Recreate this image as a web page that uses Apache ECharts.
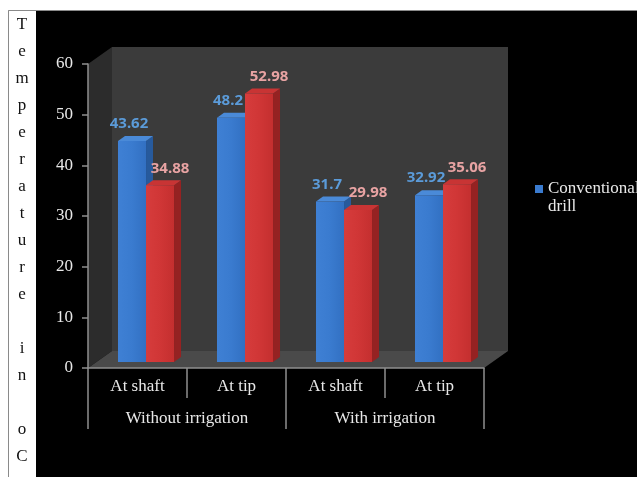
<!DOCTYPE html>
<html>
<head>
<meta charset="utf-8">
<script src="https://cdn.jsdelivr.net/npm/echarts@6/dist/echarts.min.js"></script>
<style>
  html, body { margin: 0; padding: 0; background: #ffffff; }
  #chart { width: 637px; height: 477px; }
</style>
</head>
<body>
<div id="chart"></div>
<script>
// Measurement positions along the implant and irrigation condition
const categories = ['At shaft', 'At tip', 'At shaft', 'At tip'];
const groups = ['Without irrigation', 'With irrigation'];

// Peak temperature (°C) per drill type
const conventionalDrill = [43.62, 48.2, 31.7, 32.92];
const secondDrill = [34.88, 52.98, 29.98, 35.06];

// Value axis range and step
const yMin = 0;
const yMax = 60;
const yStep = 10;

// Vertical axis title, one character per line
const axisTitleLines = ['T', 'e', 'm', 'p', 'e', 'r', 'a', 't', 'u', 'r', 'e', '', 'i', 'n', '', 'o', 'C'];

// Plot area and pseudo-3D depth
const plot = { left: 88, top: 64, right: 484, bottom: 368 };
const wallDepth = [24, -17];
const barDepth = [7, -5];
const barShift = [0.086, -6];   // bar front plane offset (fraction of band, px)
const barRatio = 0.283;          // bar width as fraction of band

const chart = echarts.init(document.getElementById('chart'), null, { renderer: 'canvas' });

function makeBar3D(side, colors, labelColor, labelDx) {
  return function (params, api) {
    const idx = api.value(0);
    const v = api.value(1);
    const base = api.coord([idx, 0]);
    const top = api.coord([idx, v]);
    const band = api.size([1, 0])[0];
    const w = band * barRatio;
    const x0 = base[0] + band * barShift[0] + (side === 0 ? -w : 0);
    const x1 = x0 + w;
    const yb = base[1] + barShift[1];
    const yt = top[1] + barShift[1];
    const dx = barDepth[0], dy = barDepth[1];
    return {
      type: 'group',
      children: [
        {
          type: 'polygon',
          shape: { points: [[x1, yb], [x1 + dx, yb + dy], [x1 + dx, yt + dy], [x1, yt]] },
          style: { fill: colors.side }
        },
        {
          type: 'polygon',
          shape: { points: [[x0, yt], [x0 + dx, yt + dy], [x1 + dx, yt + dy], [x1, yt]] },
          style: { fill: colors.top }
        },
        {
          type: 'rect',
          shape: { x: x0, y: yt, width: w, height: yb - yt },
          style: {
            fill: new echarts.graphic.LinearGradient(0, 0, 1, 0, [
              { offset: 0, color: colors.frontA },
              { offset: 0.5, color: colors.frontB },
              { offset: 1, color: colors.frontC }
            ])
          }
        },
        {
          type: 'text',
          style: {
            text: String(v),
            x: (x0 + x1) / 2 + labelDx,
            y: yt - 17,
            align: 'center',
            verticalAlign: 'middle',
            font: 'bold 15px "Noto Sans"',
            fill: labelColor
          }
        }
      ]
    };
  };
}

const blue = { frontA: '#3f80d4', frontB: '#3a7bcf', frontC: '#3270c2', side: '#275a9c', top: '#4a8ad8' };
const red = { frontA: '#d63c3c', frontB: '#d03636', frontC: '#c42f2f', side: '#952222', top: '#c83434' };

const axisGray = '#8f8f8f';
const textLight = '#e8e8e8';
const serif = '"Liberation Serif", "DejaVu Serif", serif';

const [wx, wy] = wallDepth;

const option = {
  backgroundColor: '#ffffff',
  animation: false,
  grid: {
    left: plot.left,
    top: plot.top,
    right: 637 - plot.right,
    bottom: 477 - plot.bottom,
    containLabel: false
  },
  legend: {
    data: ['Conventional drill'],
    left: 530,
    top: 157,
    icon: 'rect',
    itemWidth: 8,
    itemHeight: 8,
    // a blank first line keeps the marker level with "Conventional"
    formatter: function () { return ' \nConventional\ndrill'; },
    textStyle: {
      color: textLight,
      fontFamily: serif,
      fontSize: 17,
      lineHeight: 18
    }
  },
  graphic: [
    // page frame and title strip
    { type: 'rect', z: -10, shape: { x: 8.5, y: 10.5, width: 640, height: 480 },
      style: { fill: '#000000', stroke: '#8a8a8a', lineWidth: 1 } },
    { type: 'rect', z: -9, shape: { x: 9, y: 11, width: 27, height: 480 },
      style: { fill: '#ffffff' } },
    { type: 'text', z: -8, style: {
        text: axisTitleLines.join('\n'), x: 22, y: 11.5, align: 'center', verticalAlign: 'top',
        font: '17px ' + serif, lineHeight: 27, fill: '#111111' } },
    // back wall
    { type: 'rect', z: -5, shape: { x: plot.left + wx, y: plot.top + wy, width: plot.right - plot.left, height: plot.bottom - plot.top },
      style: { fill: '#3b3b3b' } },
    // side wall
    { type: 'polygon', z: -5, shape: { points: [[plot.left, plot.top], [plot.left + wx, plot.top + wy], [plot.left + wx, plot.bottom + wy], [plot.left, plot.bottom]] },
      style: { fill: '#2c2c2c' } },
    // floor
    { type: 'polygon', z: -5, shape: { points: [[plot.left, plot.bottom], [plot.left + wx, plot.bottom + wy], [plot.right + wx, plot.bottom + wy], [plot.right, plot.bottom]] },
      style: { fill: '#4a4a4a' } }
  ],
  xAxis: [
    {
      type: 'category',
      data: categories,
      position: 'bottom',
      axisLine: { show: true, lineStyle: { color: axisGray, width: 1.5 } },
      axisTick: { show: true, length: 30, lineStyle: { color: axisGray, width: 1.5 } },
      axisLabel: { color: textLight, fontFamily: serif, fontSize: 17, margin: 10 },
      splitLine: { show: false }
    },
    {
      type: 'category',
      data: groups,
      position: 'bottom',
      axisLine: { show: false },
      axisTick: { show: true, length: 61, lineStyle: { color: axisGray, width: 1.5 } },
      axisLabel: { color: textLight, fontFamily: serif, fontSize: 17, margin: 42 },
      splitLine: { show: false }
    }
  ],
  yAxis: {
    type: 'value',
    min: yMin,
    max: yMax,
    interval: yStep,
    axisLine: { show: true, lineStyle: { color: axisGray, width: 1.5 } },
    axisTick: { show: true, length: 6, lineStyle: { color: axisGray, width: 1.5 } },
    axisLabel: { color: textLight, fontFamily: serif, fontSize: 17, margin: 15 },
    splitLine: { show: false }
  },
  series: [
    {
      name: 'Conventional drill',
      type: 'custom',
      xAxisIndex: 0,
      itemStyle: { color: '#3a7bcf' },
      encode: { x: 0, y: 1 },
      data: conventionalDrill.map(function (v, i) { return [i, v]; }),
      renderItem: makeBar3D(0, blue, '#5b9bd9', -3)
    },
    {
      name: 'Second drill',
      type: 'custom',
      xAxisIndex: 0,
      itemStyle: { color: '#d03636' },
      encode: { x: 0, y: 1 },
      data: secondDrill.map(function (v, i) { return [i, v]; }),
      renderItem: makeBar3D(1, red, '#e8a3a3', 10)
    }
  ]
};

chart.setOption(option);
</script>
</body>
</html>
